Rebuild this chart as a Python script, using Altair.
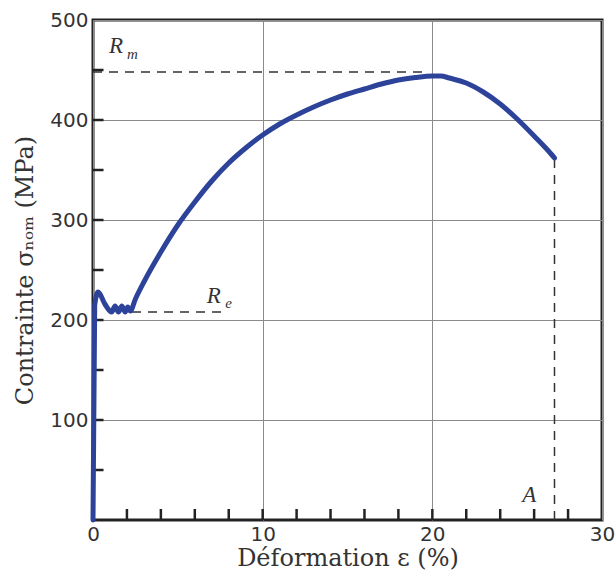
import altair as alt
import pandas as pd

# Stress-strain curve (strain %, nominal stress MPa)
eps = [0, 0.1, 0.3, 0.7, 1.1, 1.3, 1.5, 1.7, 1.9, 2.05, 2.2, 2.5, 3.0, 4.0, 5.0,
       6.0, 7.0, 8.0, 9.0, 10.0, 11.0, 12.0, 13.0, 14.0, 15.0, 16.0, 17.0, 18.0,
       19.0, 20.0, 20.5, 21.0, 22.0, 23.0, 24.0, 25.0, 26.0, 27.0, 27.2]
sigma = [0, 215, 228, 216, 208, 214, 208, 214, 208, 213, 209, 221, 238, 268, 295,
         318, 339, 357, 372, 385, 396, 405, 413, 420, 426, 431, 436, 440,
         442.5, 444, 444, 442, 437, 428, 416, 401, 384, 366, 362]

# Reference lines
rm_x = [0, 19.5]
rm_y = [448, 448]
re_x = [2.3, 7.6]
re_y = [208, 208]
a_x = [27.2, 27.2]
a_y = [0, 361]

# Inward ticks
x_ticks = [2, 4, 6, 8, 10, 12, 14, 16, 18, 20, 22, 24, 26, 28]
y_ticks = [50, 100, 150, 200, 250, 300, 350, 400, 450]

# Annotations
main_txt = ["R", "R", "A"]
main_x = [0.95, 6.7, 25.3]
main_y = [467, 217, 18]
sub_txt = ["m", "e"]
sub_x = [2.0, 7.8]
sub_y = [461, 212]

NUM_FONT = "DejaVu Sans"
SERIF = "DejaVu Serif"
ITAL = "Liberation Serif"
TXT = "#333333"

xscale = alt.Scale(domain=[0, 30], nice=False, zero=True)
yscale = alt.Scale(domain=[0, 500], nice=False, zero=True)
xaxis = alt.Axis(values=[0, 10, 20, 30], title="Déformation ε (%)", ticks=False,
                 domain=False, grid=True, labelFlush=False, labelPadding=4,
                 titlePadding=2, labelFont=NUM_FONT, titleFont=SERIF,
                 titleFontSize=24)
yaxis = alt.Axis(values=[100, 200, 300, 400, 500], title="Contrainte σₙₒₘ (MPa)",
                 ticks=False, domain=False, grid=True, labelPadding=5,
                 titlePadding=12, labelFont=NUM_FONT, titleFont=SERIF,
                 titleFontSize=24)


def X(f):
    return alt.X(f, type="quantitative", scale=xscale, axis=xaxis)


def Y(f):
    return alt.Y(f, type="quantitative", scale=yscale, axis=yaxis)


curve = alt.Chart(pd.DataFrame({"x": eps, "y": sigma})).mark_line(
    color="#2D4399", strokeWidth=5, strokeCap="round", strokeJoin="round",
    interpolate="monotone"
).encode(x=X("x"), y=Y("y"))

dash_df = pd.DataFrame({
    "x": rm_x + re_x + a_x,
    "y": rm_y + re_y + a_y,
    "g": ["rm"] * 2 + ["re"] * 2 + ["a"] * 2,
})
dashes = alt.Chart(dash_df).mark_line(
    color="#333333", strokeWidth=1.5, strokeDash=[9, 7]
).encode(x=X("x"), y=Y("y"), detail="g:N")

xt = alt.Chart(pd.DataFrame({"x": x_ticks, "y0": [0] * len(x_ticks),
                             "y1": [11] * len(x_ticks)})).mark_rule(
    color="#222222", strokeWidth=2.5
).encode(x=X("x"), y=Y("y0"), y2="y1")

yt = alt.Chart(pd.DataFrame({"y": y_ticks, "x0": [0] * len(y_ticks),
                             "x1": [0.62] * len(y_ticks)})).mark_rule(
    color="#222222", strokeWidth=2.5
).encode(y=Y("y"), x=X("x0"), x2="x1")

mtext = alt.Chart(pd.DataFrame({"t": main_txt, "x": main_x, "y": main_y})).mark_text(
    font=ITAL, fontStyle="italic", fontSize=23, align="left", baseline="alphabetic",
    color=TXT
).encode(x=X("x"), y=Y("y"), text="t:N")

stext = alt.Chart(pd.DataFrame({"t": sub_txt, "x": sub_x, "y": sub_y})).mark_text(
    font=ITAL, fontStyle="italic", fontSize=15, align="left", baseline="alphabetic",
    color=TXT
).encode(x=X("x"), y=Y("y"), text="t:N")

chart = alt.layer(dashes, xt, yt, curve, mtext, stext).properties(
    width=509, height=500,
    autosize=alt.AutoSizeParams(type="none"),
    padding={"left": 93, "top": 20, "right": 14, "bottom": 63},
    background="white",
).configure_view(
    stroke="#222222", strokeWidth=3
).configure_axis(
    gridColor="#8a8a8a", gridWidth=1, gridOpacity=1,
    labelFont=NUM_FONT, labelFontSize=20, labelColor=TXT,
    titleFont=SERIF, titleFontWeight="normal", titleColor=TXT,
)

chart.save("out.html", embed_options={"renderer": "svg", "actions": False})
